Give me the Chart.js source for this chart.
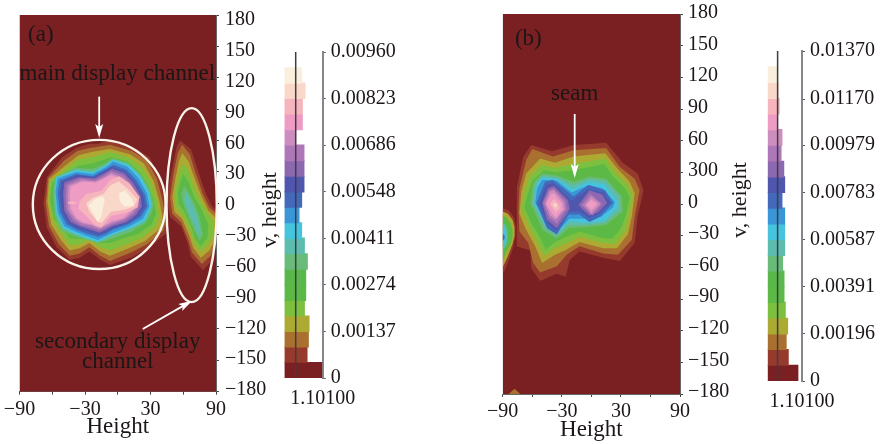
<!DOCTYPE html>
<html><head><meta charset="utf-8">
<style>html,body{margin:0;padding:0;background:#fff}canvas{position:absolute;top:0}</style>
<script src="https://cdn.jsdelivr.net/npm/chart.js@4"></script>
</head><body>
<canvas id="mainA" width="282" height="444" style="left:0"></canvas>
<canvas id="barA" width="140" height="444" style="left:270px"></canvas>
<canvas id="mainB" width="280" height="444" style="left:480px"></canvas>
<canvas id="barB" width="132" height="444" style="left:750px"></canvas>
<script>
// ---- axes
const heightTicks = [-90,-60,-30,0,30,60,90];
const heightLabels = ['\u221290','','\u221230','','30','','90'];
const vTicks = [180,150,120,90,60,30,0,-30,-60,-90,-120,-150,-180];
const vLabelsA = ['180','150','120','90','60','30','0','\u221230','\u221260','\u221290','\u2212120','\u2212150','\u2212180'];
const vLabelsB = ['180','150','120','90','60','300','0','\u221230','\u221260','\u221290','\u2212120','\u2212150','\u2212180'];
const levelTicksA = [0,0.00137,0.00274,0.00411,0.00548,0.00686,0.00823,0.0096];
const levelLabelsA = ['0','0.00137','0.00274','0.00411','0.00548','0.00686','0.00823','0.00960'];
const levelTicksB = [0,0.00196,0.00391,0.00587,0.00783,0.00979,0.0117,0.0137];
const levelLabelsB = ['0','0.00196','0.00391','0.00587','0.00783','0.00979','0.01170','0.01370'];
const freqLabel = '1.10100';
const freqMark = 1.101;
// ---- contour level colours, lowest level first
const levelColors = ['#7a1f22','#953a2c','#a9702f','#adaa34','#7dbf3e','#5cb946','#5ab84a','#68bb78','#5cbcae','#46c3dd','#3a96d6','#4469bb','#4f56ae','#8b68b0','#ad77b8','#cd8ebf','#ee9cc3','#f6b4bd','#f9d8c9','#faefdd'];
// ---- histogram beside each legend
const midsA = [0.00023,0.00069,0.00114,0.0016,0.00206,0.00251,0.00297,0.00343,0.00389,0.00434,0.0048,0.00526,0.00571,0.00617,0.00663,0.00709,0.00754,0.008,0.00846,0.00891];
const histA = [3.67,2.23,2.36,2.43,1.97,2.1,2.1,2.26,1.97,1.7,1.44,1.7,1.93,1.93,1.93,1.11,1.77,1.77,2.03,1.7];
const midsB = [0.00033,0.00098,0.00163,0.00228,0.00294,0.00359,0.00424,0.00489,0.00554,0.0062,0.00685,0.0075,0.00815,0.0088,0.00946,0.01011,0.01076,0.01141,0.01206,0.01272];
const histB = [3.37,2.3,2.07,2.23,1.97,1.83,1.83,1.67,1.9,1.9,1.9,1.6,1.9,1.8,1.5,1.6,1.0,1.3,1.17,1.0];
// ---- whole field
const field = [[-90,-180],[90,-180],[90,180],[-90,180]];
// ---- panel (a), main channel contours
const a2 = [[-65,25],[-51,44],[-38,53],[-26,57],[-18,57],[-7,60],[14,54],[29,44],[38,25],[43,3],[46,-15],[45,-28],[29,-42],[14,-51],[-7,-59],[-16,-54],[-26,-46],[-35,-52],[-44,-54],[-56,-42],[-65,-23],[-68,0]];
const a3 = [[-64,24],[-49,41],[-37,50],[-26,53],[-7,56],[13,50],[27,41],[36,23],[41,3],[44,-14],[42,-26],[27,-39],[12,-47],[-7,-55],[-16,-50],[-26,-42],[-35,-48],[-44,-50],[-54,-39],[-63,-22],[-66,0]];
const a4 = [[-63,23],[-47,37],[-36,46],[-24,49],[-7,52],[11,47],[24,38],[33,21],[38,3],[41,-13],[39,-24],[25,-36],[10,-43],[-7,-50],[-16,-46],[-26,-38],[-35,-43],[-44,-45],[-52,-35],[-61,-20],[-64.5,2]];
const a5 = [[-62,21],[-46,34],[-36,42],[-23,44],[-7,49],[9,44],[22,35],[31,20],[36,3],[38,-12],[35,-22],[22,-33],[8,-39],[-7,-45],[-16,-42],[-26,-35],[-35,-39],[-44,-40],[-50,-31],[-59,-18],[-63,2]];
const a6 = [[-60,20],[-44,30],[-36,36],[-23,38],[-6,44],[9,40],[20,30],[28,17],[33,3],[35,-10],[31,-20],[19,-29],[6,-33],[-7,-38],[-17,-38],[-27,-34],[-36,-34],[-44,-33],[-49,-26],[-58,-15],[-62,3]];
const a8 = [[-59.5,8],[-57.5,24],[-40,34],[-23,33],[-12,38],[-5,43],[9,39],[20,29],[29,14],[33,0],[31,-10],[25,-19],[13,-27],[-3,-33],[-12,-36],[-18,-38],[-31,-34],[-41,-31],[-52,-26],[-57.5,-12]];
const a10 = [[-58,11],[-56.5,25],[-38,32],[-23,30],[-12,36],[-4,42],[10,37],[21,26],[29,10],[31,-3],[25,-17],[12,-24],[-4,-30],[-12,-34],[-18,-37],[-30,-33],[-40,-29],[-50,-24],[-56.5,-10]];
const a11 = [[-57,11],[-55,24],[-38,30],[-23,28],[-12,34],[-4,40],[9,35],[19,24],[27,9],[29,-3],[23,-15],[11,-22],[-4,-28],[-12,-32],[-18,-35],[-29,-31],[-39,-27],[-49,-22],[-55,-9]];
const a12 = [[-55,10],[-53,22],[-38,28],[-23,26],[-12,32],[-4,37],[8,32],[17,22],[25,8],[27,-3],[21,-13],[10,-20],[-4,-25],[-12,-30],[-18,-32],[-28,-29],[-38,-25],[-47,-20],[-53,-8]];
const a13 = [[-53,9],[-51,21],[-37,27],[-22,25],[-12,31],[-5,35],[7,30],[15,21],[23,8],[25,-3],[19,-12],[9,-19],[-5,-24],[-12,-28],[-18,-30],[-27,-27],[-37,-24],[-45,-19],[-51,-8]];
const a14 = [[-50,9],[-49,20],[-36,25],[-21,24],[-12,29],[-5,33],[6,29],[14,20],[21,7],[22,-3],[17,-11],[8,-18],[-5,-22],[-12,-26],[-17,-28],[-26,-25],[-35,-22],[-43,-18],[-49,-7]];
const a15 = [[-48,8],[-47,18],[-34,24],[-21,22],[-12,27],[-6,31],[5,27],[12,19],[19,7],[20,-2],[15,-10],[7,-16],[-6,-21],[-12,-24],[-17,-26],[-25,-23],[-34,-21],[-41,-16],[-47,-6]];
const a16 = [[-46,8],[-45,17],[-33,22],[-20,21],[-12,25],[-6,29],[4,25],[11,18],[17,7],[18,-2],[13,-9],[6,-15],[-6,-19],[-12,-22],[-17,-24],[-24,-21],[-33,-19],[-39,-15],[-45,-6]];
const a17 = [[-44,8],[-43,16],[-32,21],[-20,20],[-12,24],[-6,27],[3,24],[10,17],[16,6],[16,-2],[11,-8],[5,-14],[-6,-17],[-12,-21],[-16,-23],[-24,-20],[-32,-18],[-38,-14],[-43,-5]];
const a18 = [[-35,1.5],[-29,9],[-15,12],[-7,22],[1,26],[11,19],[20,6],[18,-4],[8,-9],[-6,-12],[-15,-23],[-21,-21],[-29,-12],[-36,-5]];
const a18b = [[-46,1],[-42,2],[-38,1],[-38,0],[-42,-1],[-46,0]];
const a19 = [[-29,0],[-23,5],[-13,9],[-7,17],[1,21],[9,14],[18,4],[15,-3],[6,-6],[-6,-8],[-15,-19],[-19,-17],[-26,-8]];
const a20 = [[-27,-2],[-21,4],[-14,7],[-12,3],[-15,-12],[-18,-18],[-23,-9]];
const a20b = [[1,10],[7,12],[13,4],[15,-1],[11,-3],[6,-3],[2,2]];
// ---- panel (a), secondary channel contours
const s2 = [[57,60],[67,52],[73,33],[80,11],[86,-2],[90,-7],[90,-38],[87,-54],[78,-64],[67,-51],[64,-38],[58,-22],[48,-13],[45,3],[49,29],[54,54]];
const s3 = [[59,56],[66,47],[71,30],[78,9],[84,-4],[90,-10],[90,-36],[85,-50],[77,-58],[68,-47],[65,-36],[58,-18],[50,-10],[48,5],[51,28],[55,48]];
const s4 = [[59,48],[65,40],[70,25],[77,6],[83,-7],[90,-14],[90,-33],[84,-45],[76,-52],[69,-42],[66,-32],[59,-15],[52,-8],[50,6],[53,25],[56,40]];
const s5 = [[60,38],[65,30],[69,18],[75,4],[82,-9],[88,-18],[88,-30],[82,-40],[76,-46],[70,-38],[67,-28],[60,-12],[54,-5],[52,8],[55,22],[57,32]];
const s6 = [[60,28],[65,20],[70,6],[77,-6],[83,-20],[82,-33],[76,-41],[71,-34],[68,-24],[61,-8],[56,-1],[55,10],[57,20]];
const s8 = [[61,17],[66,8],[71,-2],[75,-14],[78,-30],[75,-36],[70,-26],[66,-16],[60,0],[58,8]];
const s9 = [[62,12],[68,0],[73,-12],[76,-26],[74,-31],[70,-20],[65,-10],[61,2]];
// ---- panel (b), main contours
const b2 = [[-61,56],[-40,50],[-18,56],[15,58],[32,39],[47,29],[53,13],[47,-12],[44,-37],[29,-54],[12,-51],[-12,-45],[-22,-53],[-26,-69],[-35,-66],[-52,-73],[-61,-61],[-62,-44],[-76,-40],[-76,-27],[-75.5,-8],[-75.5,16],[-69,45]];
const b3 = [[-60,52],[-39,45],[-18,51],[15,53],[29,35],[44,24],[49,13],[44,-12],[41,-34],[27,-48],[12,-47],[-12,-40],[-25,-48],[-35,-59],[-52,-65],[-59,-56],[-64,-37],[-73,-26],[-74,-5],[-73,15],[-66,42]];
const b4 = [[-52,43],[-37,39],[-18,45],[14,48],[26,34],[39,21],[44,10],[41,-12],[37,-29],[26,-42],[12,-42],[-12,-36],[-27,-44],[-37,-48],[-50,-56],[-57,-40],[-67,-23],[-73,-9],[-71,12],[-66,29]];
const b5 = [[-50,37],[-37,34],[-18,38],[14,43],[24,30],[37,18],[42,8],[38,-12],[34,-26],[24,-38],[12,-37],[-12,-31],[-27,-38],[-37,-42],[-48,-49],[-55,-36],[-64,-20],[-71,-4],[-68,10],[-63,26]];
const b6 = [[-48,32],[-36,30],[-18,32],[13,38],[22,26],[34,15],[39,6],[35,-11],[30,-23],[21,-33],[10,-32],[-12,-26],[-27,-32],[-37,-36],[-46,-43],[-52,-32],[-61,-18],[-68,-3],[-65,8],[-60,22]];
const b8 = [[-50,29],[-35,27],[-18,21],[-2,26],[15,24],[31,7],[32,-7],[15,-20],[-6,-22],[-23,-23],[-35,-33],[-49,-25],[-62,1],[-59,20]];
const b9 = [[-49,27],[-35,25],[-18,18],[-2,24],[14,22],[29,7],[29,-6],[14,-18],[-6,-20],[-23,-20],[-35,-30],[-47,-23],[-60,1],[-57,19]];
const b10 = [[-51,25],[-35,24],[-19,14],[-3,21],[13,19],[27,2],[26,-4],[13,-16],[-7,-18],[-22,-16],[-35,-28],[-46,-21],[-58,1],[-56,17]];
const b11 = [[-50,23],[-35,22],[-20,11],[-3,18],[11,15],[24,2],[22,-3],[10,-12],[-8,-14],[-22,-14],[-35,-26],[-44,-19],[-57,1],[-55,15]];
const b12 = [[-56,1],[-47,21],[-39,23],[-18,7],[-3,18],[14,13],[22,1],[9,-12],[-2,-17],[-12,-10],[-23,-10],[-35,-29],[-45,-23]];
const b13 = [[-53,1],[-46,18],[-39,20],[-20,3],[-3,14],[12,11],[19,1],[8,-9],[-2,-13],[-12,-7],[-24,-7],[-35,-25],[-44,-19]];
const b14 = [[-50,1],[-44,15],[-38,17],[-24,4],[-22,-4],[-24,-8],[-35,-23],[-45,-15]];
const b14r = [[-13,-1],[-2,13],[11,9],[16,1],[7,-8],[-2,-11],[-9,-5]];
const b15 = [[-49,1],[-43,13],[-38,15],[-26,3],[-25,-5],[-35,-19],[-43,-13]];
const b15r = [[-10,-1],[-1,10],[11,0],[1,-11]];
const b16 = [[-47,1],[-42,12],[-38,13],[-28,2],[-27,-5],[-36,-15],[-42,-11]];
const b16r = [[-7,-1],[0,7],[9,0],[0,-9]];
const b17 = [[-46,0],[-41,9],[-38,10],[-30,1],[-29,-5],[-36,-13],[-40,-9]];
const b17r = [[-5,-1],[0,4],[6,0],[0,-6]];
const b18 = [[-42,0],[-38,5],[-33,0],[-32,-4],[-36,-8]];
const b19 = [[-39,0],[-36,1],[-35,-2],[-36,-4],[-38,-2]];
// ---- panel (b), edge lobe and bottom hump
const e2 = [[-90,-4],[-84,-6],[-79,-12],[-77,-20],[-77,-30],[-79,-40],[-84,-54],[-88,-63],[-90,-66]];
const e4 = [[-90,-7],[-85,-9],[-80,-15],[-78,-22],[-78,-30],[-80,-38],[-85,-50],[-90,-60]];
const e6 = [[-90,-11],[-86,-13],[-82,-18],[-80,-24],[-80,-32],[-82,-38],[-87,-47],[-90,-54]];
const e9 = [[-90,-18],[-87,-20],[-85,-26],[-85,-34],[-87,-40],[-90,-44]];
const e10 = [[-90,-22],[-88,-24],[-87,-30],[-88,-36],[-90,-40]];
const e12 = [[-90,-28],[-88,-30],[-88,-33],[-90,-35]];
const h2 = [[-84,-180],[-78,-175],[-72,-180]];
// level index (into levelColors) paired with each outline, back to front
const contoursA = [[0,field],[1,a2],[2,a3],[3,a4],[4,a5],[5,a6],[7,a8],[9,a10],[10,a11],[11,a12],[12,a13],[13,a14],[14,a15],[15,a16],[16,a17],[17,a18],[17,a18b],[18,a19],[19,a20],[19,a20b],[1,s2],[2,s3],[3,s4],[4,s5],[5,s6],[7,s8],[8,s9]];
const contoursB = [[0,field],[1,b2],[2,b3],[3,b4],[4,b5],[5,b6],[7,b8],[8,b9],[9,b10],[10,b11],[11,b12],[12,b13],[13,b14],[13,b14r],[14,b15],[14,b15r],[15,b16],[15,b16r],[16,b17],[16,b17r],[17,b18],[18,b19],[1,e2],[3,e4],[5,e6],[8,e9],[9,e10],[11,e12],[2,h2]];

const ink = '#1c1616', serif = '"Liberation Serif", serif', line = '#f8f4ea';
const ellipsesA = [[-17,-1,60.8,61.7],[67.7,-1.7,23,92.7]];
const arrowsA = [[-17,102,-17,62.4],[22.9,-120,68.3,-93]];
const arrowsB = [[-16.9,85.3,-16.9,24.7]];
const notesA = [['(a)',-70.5,161],['main display channel',-0.4,123.6],['secondary display',0,-132.6],['channel',0,-152]];
const notesB = [['(b)',-64,156],['seam',-16.9,104]];

function overlay(ellipses, arrows, notes, sideX, sideY){
  return {id:'overlay', afterDatasetsDraw(chart){
    const c = chart.ctx, X = chart.scales.x, Y = chart.scales.y;
    c.save();
    c.strokeStyle = line; c.lineWidth = 2.4;
    ellipses.forEach(e => {
      c.beginPath();
      c.ellipse(X.getPixelForValue(e[0]), Y.getPixelForValue(e[1]),
        Math.abs(X.getPixelForValue(e[0]+e[2])-X.getPixelForValue(e[0])),
        Math.abs(Y.getPixelForValue(e[1]+e[3])-Y.getPixelForValue(e[1])), 0, 0, Math.PI*2);
      c.stroke();
    });
    arrows.forEach(a => {
      const x0=X.getPixelForValue(a[0]), y0=Y.getPixelForValue(a[1]), x1=X.getPixelForValue(a[2]), y1=Y.getPixelForValue(a[3]);
      const ang=Math.atan2(y1-y0,x1-x0);
      c.strokeStyle='#fff'; c.fillStyle='#fff'; c.lineWidth=1.8;
      c.beginPath(); c.moveTo(x0,y0); c.lineTo(x1-8*Math.cos(ang),y1-8*Math.sin(ang)); c.stroke();
      c.save(); c.translate(x1,y1); c.rotate(ang);
      c.beginPath(); c.moveTo(0,0); c.lineTo(-14,-4); c.lineTo(-11,0); c.lineTo(-14,4); c.closePath(); c.fill();
      c.restore();
    });
    c.fillStyle = ink; c.textAlign='center'; c.textBaseline='middle'; c.font='23px '+serif;
    notes.forEach(n => c.fillText(n[0], X.getPixelForValue(n[1]), Y.getPixelForValue(n[2])));
    c.font='22px '+serif;
    c.translate(sideX, sideY); c.rotate(-Math.PI/2);
    c.fillText('v, height', 0, 0);
    c.restore();
  }};
}

function mainChart(id, contours, vLabels, pad, labelRange, ov){
  return new Chart(document.getElementById(id), {
    type:'scatter',
    data:{datasets:contours.map((c,i)=>({
      data:c[1].map(p=>({x:p[0],y:p[1]})),
      showLine:true, fill:'shape', tension:0, borderWidth:0, pointRadius:0,
      backgroundColor:levelColors[c[0]], borderColor:levelColors[c[0]], order:-i
    }))},
    options:{
      responsive:false, animation:false, devicePixelRatio:1,
      layout:{padding:pad},
      plugins:{legend:{display:false},tooltip:{enabled:false}},
      scales:{
        x:{type:'linear',min:-90,max:90,
          afterBuildTicks:s=>{s.ticks=heightTicks.map(v=>({value:v}));},
          afterFit:s=>{s.height=444-pad.top-pad.plotH;},
          grid:{drawOnChartArea:false,tickLength:3,color:'#444'},
          border:{color:'#666',width:1},
          ticks:{autoSkip:false,maxRotation:0,padding:pad.xPad,color:ink,font:{family:serif,size:20},
            callback:v=>heightLabels[heightTicks.indexOf(v)]},
          title:{display:true,text:'Height',color:ink,font:{family:serif,size:23},padding:{top:0,bottom:pad.titleBottom}}},
        y:{type:'linear',position:'right',min:-180,max:180,
          afterBuildTicks:s=>{s.ticks=vTicks.map(v=>({value:v}));},
          afterFit:s=>{s.width=3;},
          grid:{drawOnChartArea:false,tickLength:3,color:'#444'},
          border:{color:'#666',width:1},
          ticks:{display:false}},
        yl:{type:'linear',position:'right',min:labelRange[0],max:labelRange[1],
          afterBuildTicks:s=>{s.ticks=vTicks.map(v=>({value:v}));},
          afterFit:s=>{s.width=60;s.paddingTop=0;s.paddingBottom=0;},
          grid:{display:false,drawTicks:false},border:{display:false},
          ticks:{autoSkip:false,padding:pad.yPad,color:ink,font:{family:serif,size:20},
            callback:v=>vLabels[vTicks.indexOf(v)]}}
      }
    },
    plugins:[ov]
  });
}

function barChart(id, mids, hist, ticks, labels, top, bottom, left, right, xMax, yMax, thick){
  return new Chart(document.getElementById(id), {
    type:'bar',
    data:{datasets:[
      {type:'line',data:[{x:freqMark,y:0},{x:freqMark,y:yMax}],borderColor:'#3d3d44',borderWidth:1.5,pointRadius:0,order:0,xAxisID:'x',yAxisID:'y'},
      {type:'bar',data:mids.map((m,i)=>({x:hist[i],y:m})),backgroundColor:levelColors,barThickness:thick,borderWidth:0,order:1,xAxisID:'x',yAxisID:'y'}
    ]},
    options:{
      indexAxis:'y',responsive:false,animation:false,devicePixelRatio:1,
      layout:{padding:{left:left,top:top,right:right,bottom:0}},
      plugins:{legend:{display:false},tooltip:{enabled:false}},
      scales:{
        x:{type:'linear',min:0,max:xMax,
          afterBuildTicks:s=>{s.ticks=[{value:0},{value:xMax}];},
          afterFit:s=>{s.height=444-bottom;},
          grid:{display:false,drawTicks:false},border:{display:false},
          ticks:{autoSkip:false,maxRotation:0,padding:9,color:ink,font:{family:serif,size:20},callback:v=>v===0?'':freqLabel}},
        y:{type:'linear',position:'right',min:0,max:yMax,offset:false,
          afterBuildTicks:s=>{s.ticks=ticks.map(v=>({value:v}));},
          afterFit:s=>{s.width=80;},
          grid:{offset:false,drawOnChartArea:false,tickLength:3,color:'#555'},
          border:{color:'#85858b',width:2},
          ticks:{autoSkip:false,padding:5,color:ink,font:{family:serif,size:20},
            callback:v=>labels[ticks.indexOf(v)]}}
      }
    }
  });
}

mainChart('mainA',contoursA,vLabelsA,{left:19.5,top:15,right:3,bottom:0,plotH:376.7,xPad:3,titleBottom:3,yPad:6},[-181.65,184.9],overlay(ellipsesA,arrowsA,notesA,270,210));
barChart('barA',midsA,histA,levelTicksA,levelLabelsA,52,378,14.5,7.3,3.755,0.0096,15.9);
mainChart('mainB',contoursB,vLabelsB,{left:22.7,top:14,right:17,bottom:0,plotH:380,xPad:3,titleBottom:0,yPad:5},[-181.9,179.05],overlay([],arrowsB,notesB,260,200));
barChart('barB',midsB,histB,levelTicksB,levelLabelsB,51,381,17.7,0,3.81,0.0137,16.1);
</script>
</body></html>
